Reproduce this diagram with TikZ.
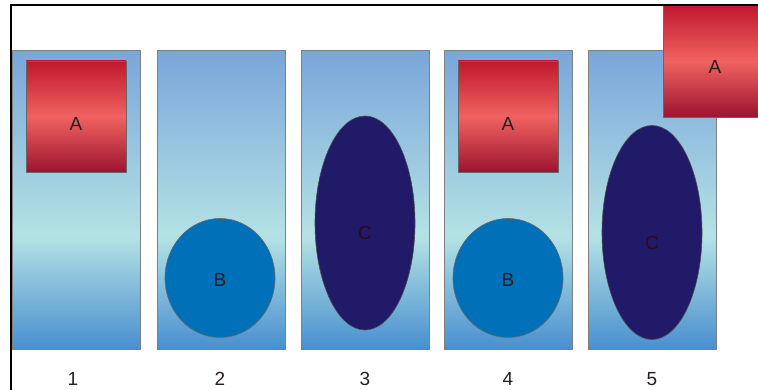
\documentclass[tikz,border=0pt]{standalone}
\usepackage{fontspec}
\setmainfont{Liberation Sans}
\usepackage{xcolor}
\usepackage{tikz}
\usetikzlibrary{positioning,shapes.geometric}
\definecolor{paneltop}{RGB}{122,166,218}
\definecolor{panelmid}{RGB}{180,226,228}
\definecolor{panelbot}{RGB}{72,142,207}
\definecolor{redtop}{RGB}{192,24,46}
\definecolor{redmid}{RGB}{240,98,96}
\definecolor{redbot}{RGB}{156,20,48}
\definecolor{bblue}{RGB}{0,112,184}
\definecolor{cnavy}{RGB}{32,26,104}
\definecolor{edgegrey}{RGB}{128,128,128}
\definecolor{txtdark}{RGB}{40,30,30}
\pgfdeclareverticalshading{panelshade}{100bp}{color(0bp)=(panelbot); color(25bp)=(panelbot);
  color(44bp)=(panelmid); color(75bp)=(paneltop); color(100bp)=(paneltop)}
\tikzset{
  panel/.style ={draw=edgegrey, line width=1pt, shading=panelshade,
                 minimum width=128pt, minimum height=299pt, inner sep=0pt},
  boxa/.style  ={draw=black!60, line width=0.6pt, top color=redtop, bottom color=redbot,
                 middle color=redmid, minimum width=100pt, minimum height=111pt,
                 inner sep=0pt, text height=27.6pt, text depth=0pt,
                 font=\fontsize{19}{22}\selectfont, text=txtdark},
  circb/.style ={ellipse, draw=black!60, line width=0.6pt, fill=bblue,
                 minimum width=110pt, minimum height=119pt, inner sep=0pt,
                 text height=17.6pt, text depth=0pt,
                 font=\fontsize{19}{22}\selectfont, text=txtdark},
  ellc/.style  ={ellipse, draw=black!70, line width=0.6pt, fill=cnavy,
                 minimum width=100pt, minimum height=214pt, inner sep=0pt,
                 text height=34pt, text depth=0pt,
                 font=\fontsize{19}{22}\selectfont, text={rgb,255:red,50;green,10;blue,20}},
  lbl/.style   ={font=\fontsize{19}{22}\selectfont, text=txtdark, inner sep=0pt},
}

\begin{document}
\begin{tikzpicture}[x=1pt,y=1pt]
\useasboundingbox (0,0) rectangle (758,390);
% five panels
\foreach \x/\n in {76/1, 221/2, 365/3, 508/4, 652/5}{
  \node[panel] (p\n) at (\x,189.5) {};
}
\foreach \x/\n in {73/1, 220/2, 365/3, 508/4, 652/5}{
  \node[lbl] (n\n) at (\x,11) {\n};
}
% contents
\node[boxa] (a1) at (76,273.5) {A};
\node[circb] (b2) at (220,112) {B};
\node[ellc] (c3) at (365,167) {C};
\node[boxa] (a4) at (508,273.5) {A};
\node[circb] (b4) at (508,112) {B};
\node[ellc] (c5) at (652,157.5) {C};
\node[boxa, minimum width=100pt, minimum height=112pt] (a6) at (713,329) {};
\node[font=\fontsize{19}{22}\selectfont, text=txtdark] (t6) at (715,323) {A};
% frame
\draw[line width=2pt] (11,0) -- (11,385) -- (758,385);
\end{tikzpicture}
\end{document}
